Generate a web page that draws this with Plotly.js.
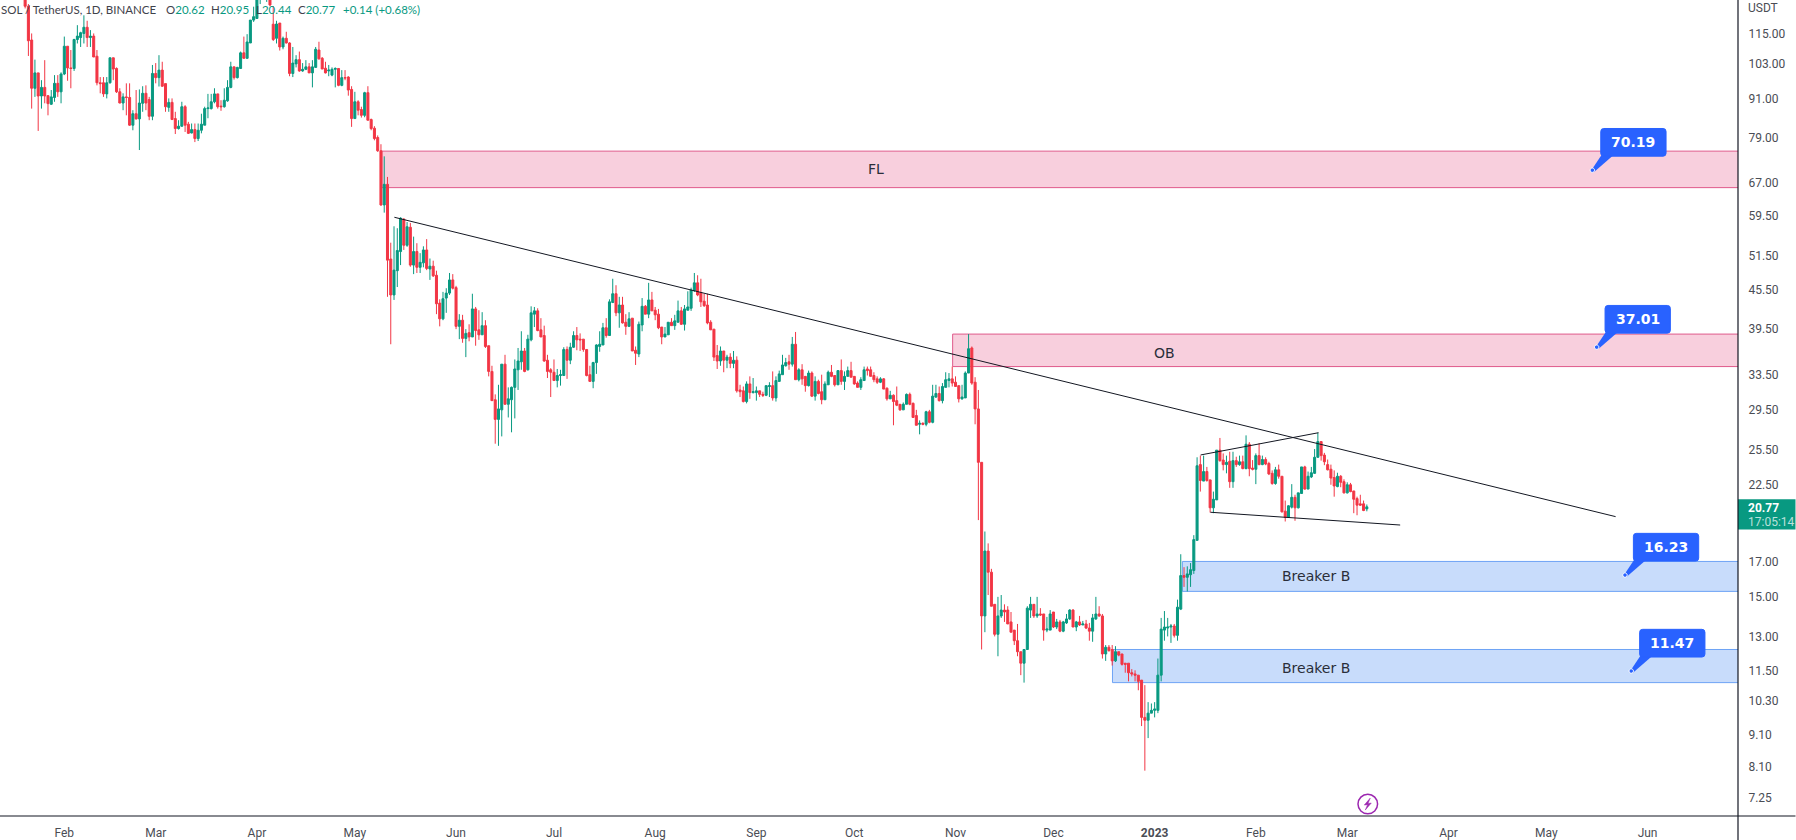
<!DOCTYPE html>
<html><head><meta charset="utf-8">
<script src="https://cdn.plot.ly/plotly-3.0.1.min.js"></script>
<style>html,body{margin:0;padding:0;background:#fff;overflow:hidden}#c{width:1796px;height:840px}</style>
</head><body><div id="c"></div>
<script>
const startDate = '2022-01-20';
const opens = [133,127,112.4,94.4,99.8,91.8,94.7,91.9,89.1,91.3,
96.1,93.2,99.4,109.9,101.6,101.4,112.6,113.4,115.1,117.7,
113.4,114,106,96.3,96.3,92.5,96.3,105.4,101.4,93.2,
89.5,91.5,91.3,82.6,86.1,84.5,89.4,92.7,90.6,85.3,
99.6,98.1,100.8,96,88.1,89.7,84.6,81.6,82.3,88.3,
82.9,80.3,81.3,78.7,81.1,82.6,87.7,87.7,89.9,92.5,
88.5,88.3,90.2,94.7,102,98.1,101.4,107.3,105.2,111.2,
120.8,121.5,130.5,136,133,133.5,119,113.1,119.5,109.6,
113.1,111.2,99.6,103.1,104.7,100.5,101.1,102,99.8,101.8,
108.4,105.2,101.5,100.5,99,101.1,101.4,95.4,98.1,98.3,
94,84.6,89.9,87.4,85.6,92.9,84.3,81.7,79,75.3,
61.9,66.7,50.9,44.7,48.8,52.3,58.8,53.5,57.1,49.8,
52.3,49.4,50.2,52.6,49.1,49.6,48,43.4,41,44.2,
45,47.2,45.9,39.9,40.8,38.2,39,38.4,42.5,39.4,
38.7,40,37.2,33.9,30.6,28.5,29.5,34.8,30.1,30.6,
32,34.1,35.1,36.5,34.1,38,41.7,42.2,39.4,38.6,
35.3,34.1,33.8,32.8,33.4,33.4,36.7,35.3,37,38.6,
38.1,38.1,36.7,33.5,32.7,35,37.1,37.3,39.7,38.6,
43.5,44.9,41.9,43.1,40.5,39.9,41.1,36.6,36.1,40.1,
42.9,41.7,43.9,42.3,41.7,39.8,38.4,38.7,40.5,40,
40.5,42.2,40.2,42.3,42.6,45.4,46.7,45.1,43.7,43.1,
40.5,39.5,35.9,35.2,36.5,35.3,35.7,34.9,35.3,31.7,
31.6,30.4,32.4,31.4,31.4,31.6,31.2,31.1,32.1,32.2,
30.8,32.7,33.5,34.6,
35.1,34.8,37.4,32.9,34.1,33.3,32.2,33.7,31,32.7,31.5,30.6,32.3,33.8,33.4,32.3,34,32.7,33.3,34,33.3,32.5,32,32.8,34.2,34.1,
33.4,33,32.6,33,31.9,30.7,31.1,30.5,30.1,29.5,30.1,31.2,30.2,28.9,28,28.1,28,29.3,28.2,30.9,31.3,30.5,32,32.8,33,32.6,
32.2,30.7,30.8,33.7,36.9,32.6,29.6,24.4,14,17.7,16.4,14.6,13.1,14,14.3,14.3,13.7,13.3,12.8,12.3,11.8,12.4,14.3,14.6,14,14.1,
14.1,13.3,13.3,14.2,13.45,13.7,13.25,13.65,13.85,14.3,13.45,13.7,13.55,13.6,13.4,13.25,13.85,14.1,14,12.2,12.5,12.4,11.9,12.3,12.2,11.8,
11.8,11.4,11.35,11.3,11.1,9.7,9.6,9.85,9.95,9.95,11.3,13.3,13.4,13.45,13.5,13.05,14.35,16.2,16.1,16.25,16.5,18.4,24.2,22.8,23.6,22.9,
20.7,21.3,25.5,24.6,24.2,24.5,22.75,24.55,24.2,24.45,23.85,26.05,23.9,23.8,25,24.2,24.65,24.3,23.45,22.6,23.75,23.2,20.45,20,20.75,21.5,
20.7,21.8,24,22.15,23.15,23.45,24.85,26.3,25.05,24.2,23.8,23.1,22.35,23.2,22.75,21.85,22.5,22,21.4,21,21,20.62];
const highs = [136,128,115.1,104.7,99.8,97.2,104.5,92,93.8,99,
99,100,113.8,110,108.4,112.9,118.6,115.8,122.9,120.5,
116.5,115.1,108.4,98.3,98.3,98.3,105.4,105.4,101.8,94.4,
92.7,96.1,96.1,87.2,93.8,94,95.1,95.4,91.5,102.7,
103.4,106.4,103.9,96,91,91,86.7,84.1,89.9,88.8,
83.6,83.1,83.1,83.1,86.1,88.3,92.5,92.5,94.4,92.5,
90.4,94.4,97.2,103.9,102,102,107.8,113.8,114.8,120.8,
126.8,135,143,144,139,137,127,120.5,119.5,113.8,
115.8,111.5,109.6,106.4,107.8,103.4,104.5,103.4,104.5,109.6,
111.7,105.7,103.9,102.7,101.8,101.8,101.4,100.8,100.8,98.6,
95.1,93.2,90.4,88.3,93.2,95.1,84.6,82.3,79.6,77.1,
73.8,68.5,54,57.3,56.9,59.2,59,58.2,58,55.2,
53.9,52,53.3,54.7,51,50.6,48.8,44,45.2,45.8,
48.4,48.2,46.2,41.7,41.6,39.5,40.2,44.9,42.8,42.3,
42,40.8,37.2,34.6,31.2,32.3,34.8,36,32,32.1,
35.4,36.9,39.2,36.9,38.7,42.9,42.8,42.6,41.1,40,
36,34.3,35.4,34.2,34.1,37,37.1,37.6,39.2,39.8,
38.9,38.1,36.7,34.6,35.1,37.4,39.2,40.4,41.1,44,
47.4,46.3,44.4,44.4,41.7,42,41.1,37.1,40.6,44.2,
43.1,46.7,45.2,42.8,42.5,39.8,39.8,40.5,41.1,41.6,
43.8,42.8,43.1,45.3,45.9,48.4,48,47.4,44.9,44.9,
40.8,39.5,37.3,37.1,36.5,36,36.2,36.5,35.8,32.3,
32.1,32.7,33.3,33.1,32.1,31.6,31.5,32.2,32.6,33.9,
33.3,34,36,35.6,
36,38.4,39.1,34.3,34.8,33.3,34,33.9,33.3,32.9,33.5,32.7,34,34.7,33.4,34,35.4,33.9,34.5,35.1,33.3,32.7,33.2,34.5,34.5,34.5,
33.8,33.3,33.2,33.1,32,31.6,31.2,32.1,30.1,30.3,31.3,31.4,30.3,29.5,28.4,28.2,29.4,29.5,32.3,32.3,32.1,32.5,33.8,33.7,34.5,33.3,
32.2,32.3,33.9,38.8,37.1,33.2,31.7,24.4,19,18.2,16.6,14.6,15,15.1,14.6,14.5,14.2,13.3,13.6,12.3,12.4,14.5,15,14.6,15,14.4,
14.1,13.95,14.3,14.2,13.85,13.8,13.75,14.1,14.35,14.35,13.75,14,13.75,13.8,13.65,14.1,15,14.5,14.1,12.6,12.6,12.6,12.55,12.3,12.2,11.8,
11.8,11.55,11.5,11.3,11.1,10.9,10.25,10.2,10.25,12,13.9,14.25,13.9,13.6,13.6,14.85,17.5,16.7,16.75,16.95,18.75,24.85,25,25,24,22.9,
21.95,25.5,26.65,25.2,25,25.35,25.35,24.9,25,25,26.9,26.25,24.6,25.2,26.15,25,24.85,24.45,23.7,24,24.2,23.2,21.25,20.9,22.55,21.7,
21.85,24,24.1,23.6,24,25.6,27.15,26.3,25.25,24.65,24.2,23.7,23.5,23.3,22.95,22.7,22.65,22,21.55,21.7,21.25,20.95];
const lows = [126,106.1,87.7,91.5,80.9,87.7,89.4,85.6,88.9,89.9,
91.5,89.4,99,97,94.4,100.5,111,109.6,111,109.6,
109.6,105.7,95.4,92.7,91.5,91,96,97.2,92.8,89.4,
87.2,85.6,82.4,81.1,84.3,75.5,86.7,87.2,84.1,84.1,
96.1,95,94.9,86.7,86.7,84.3,80,81.3,82.1,80.6,
80,80.2,77.7,78,80.2,82.6,84.7,87.4,89.4,87.7,
87,88,89.9,94.4,97.4,97.8,101.2,105,105,111.2,
120,121.5,128,131,129,127,112,111,108.2,108.7,
111,98.6,98.3,101.8,100.2,100.2,100.8,99.8,94.7,101.8,
104.7,101.2,99.6,98.6,98.6,94.7,95.1,95.1,97.2,91.9,
82.1,84.6,85.6,84.9,85,84.1,81.1,78.2,75,61.7,
60.2,44.4,37.4,43.9,46,49.8,52.6,53.2,49.5,48.2,
48.4,48.4,49.4,48.9,47.2,47.7,41.7,39.9,40.8,41.9,
44.7,45.6,39.5,38.1,37.6,35.7,37.8,38.4,37.2,38,
38.7,36.9,33.3,30.5,26.1,25.9,26.8,30.1,28.7,27.2,
28.6,31.7,34.1,33.8,34,37.8,39.8,39.2,38.4,35.1,
33.1,30.9,32.8,32,32.2,33.4,33,34.8,36.9,36.6,
36.5,36.4,33.3,32.7,31.9,33.6,36.4,37.3,38.3,38.6,
43.4,41.4,39.7,40.3,38.7,39.8,36.5,34.7,35.7,39.2,
41.7,41.1,42.2,40.8,39.5,37.4,38.4,38.7,40,39.4,
40.5,40.1,39.3,42.3,42.2,45.2,44.5,42.8,42.8,40.2,
39.4,35.2,34.2,34.6,33.8,34.3,34.3,34.3,31.4,30.9,
30.3,30.2,30.7,31.3,30.5,30.9,30.9,31,30.9,30.5,
30.4,32.7,33.5,34.5,
34.1,34.5,32.9,32.7,32.3,31.5,32.1,30.9,30.5,31.2,30.1,30.6,32.3,33.2,32.1,32.3,32.3,31.7,33.3,33.2,32.3,32,31.7,32.8,33.4,33.3,
32.6,32.4,32.5,31.8,30.5,30.7,27.9,29.9,29.4,29.5,30.1,30,28.7,27.9,27,27.9,27.8,28.1,28.1,30.8,30.4,30.2,32,32,32.1,32.1,
30.3,30.6,30.8,33.7,32.3,28,19.8,12.4,13.2,15.1,14.5,13,12.1,13.9,13.7,13.6,13.2,12.6,12.1,11.3,11,12.4,13.9,13.9,13.9,14,
12.8,13.2,13.3,13.4,13.35,13.2,13.2,13.6,13.8,13.45,13.25,13.5,13.55,13.35,12.8,12.75,13.8,13.95,12,11.9,12.3,11.7,11.85,12.1,11.7,11.4,
11.05,11.25,11.05,10.7,9.4,8,9,9.85,9.7,9.85,11.05,12.8,13,12.7,12.95,12.8,14.3,15.55,15.3,15.55,16.3,18.4,21.95,22.8,22.75,20.35,
20.3,21.3,24.45,23.7,23.45,22.25,22.25,24,24.1,23.8,23.8,23.2,23.7,22.55,24.15,24.15,24.15,23.3,22.5,22.5,23,20.35,19.7,19.95,20.65,19.75,
20.65,21.8,22.1,22.15,23.05,23.4,24.8,24.55,24.15,23.7,22.5,21.55,22.3,22.3,21.8,21.8,21.9,20.3,20.15,20.85,20.45,20.44];
const closes = [127,112.1,94.4,99.8,91.8,94.7,91.8,89.3,91.5,96.1,
93.2,99.4,109.9,101.6,101.4,112.6,114,115.4,117.7,113.4,
114,105.7,96.3,96,92.5,96.3,105.4,101.2,93.2,89.5,
91.5,91.3,82.6,86.1,84.5,89.5,92.7,89.5,85.3,99.6,
98.1,100.8,95.1,88.3,89.7,84.3,81.6,82.3,88.3,82.6,
80.2,81.3,78.7,81.1,82.9,87.7,87.9,89.9,92.5,88.3,
88.3,90.4,94.7,102,98.1,101.8,107.3,105.2,111.6,120.8,
122.3,130.5,136,133,133.5,127.6,112.6,119.1,109.6,113.1,
111.2,99.6,103.4,104.7,100.5,101.1,102,99.8,102,108.7,
105,101.2,99.8,100.8,101.1,101.4,95.4,98.1,98,93.8,
84.6,89.9,87.2,85.6,92.9,84.1,81.6,78.7,75.3,61.9,
66.7,50.7,44.7,48.9,52.5,59,53.5,57.2,49.8,52.3,
49.4,50.3,52.6,49.2,49.6,47.9,43.3,41,44.1,45,
47.2,45.8,39.9,40.8,38.2,38.9,38.4,42.5,39.3,38.7,
40,37.1,33.9,30.5,28.5,29.6,34.8,30.1,30.7,32,
34.2,35.2,36.5,33.9,38.1,41.9,42.2,39.3,38.4,35.2,
33.9,33.8,32.8,33.4,33.5,36.7,35.3,37,38.6,38,
38,36.7,33.4,32.7,35,37.3,37.4,39.7,38.6,43.6,
44.9,41.9,43.1,40.4,39.9,41,36.5,36.2,40.2,42.9,
41.7,43.9,42.2,41.6,39.7,38.4,38.8,40.5,40,40.7,
42.2,40.2,42.5,42.8,45.5,46.7,44.7,43.6,43,40.4,
39.4,35.7,35.2,36.5,35.3,35.7,34.9,35.3,31.6,31.5,
30.4,32.4,31.4,31.5,31.6,31.2,31.1,32.2,32.2,30.8,
32.8,33.6,34.7,35,
34.8,37.4,32.9,34.1,33,32.2,33.7,31,32.7,31.3,30.6,32.4,33.8,33.3,32.3,34,32.7,33.3,34,33.2,32.4,32,32.9,34.1,34,33.3,
32.9,32.6,33,31.8,30.7,31.1,30.4,30,29.5,30.1,31.2,30.1,28.7,27.9,28.1,28,29.3,28.2,31,31.3,30.5,32.1,32.9,33,32.5,32.1,
30.7,30.9,33.7,36.8,32.5,29.6,24.4,14,17.7,16.4,14.5,13.1,14,14.3,14.2,13.6,13.2,12.8,12.3,11.8,12.4,14.4,14.6,14,14.1,14.05,
13.3,13.35,14.1,13.45,13.7,13.25,13.7,13.85,14.3,13.45,13.7,13.55,13.6,13.4,13.25,13.9,14.1,14,12.2,12.5,12.35,11.9,12.3,12.15,11.75,11.75,
11.4,11.35,11.3,11.05,9.7,9.6,9.85,9.95,10,11.3,13.35,13.45,13.45,13.5,13.05,14.45,16.2,16.1,16.3,16.55,18.45,24.1,22.85,23.6,22.85,20.7,
21.35,25.5,24.55,24.2,24.4,22.75,24.55,24.2,24.45,23.85,26.05,23.85,23.8,25,24.2,24.65,24.25,23.4,22.6,23.75,23.2,20.4,20,20.85,21.5,20.7,
21.85,24,22.15,23.2,23.5,24.85,26.3,25,24.45,23.75,23.05,22.4,23.2,22.7,21.85,22.5,21.95,21.35,20.9,20.9,20.5,20.77];

const priceTicks = [115,103,91,79,67,59.5,51.5,45.5,39.5,33.5,29.5,25.5,22.5,17,15,13,11.5,10.3,9.1,8.1,7.25];
const monthDates = ['2022-02-01','2022-03-01','2022-04-01','2022-05-01','2022-06-01','2022-07-01','2022-08-01','2022-09-01','2022-10-01','2022-11-01','2022-12-01','2023-01-01','2023-02-01','2023-03-01','2023-04-01','2023-05-01','2023-06-01'];
const monthLabels = ['Feb','Mar','Apr','May','Jun','Jul','Aug','Sep','Oct','Nov','Dec','<b>2023</b>','Feb','Mar','Apr','May','Jun'];

// zones
const zoneStarts = ['2022-05-09T06:00','2022-10-31T03:00','2023-01-09T12:00','2022-12-19T02:00'];
const zoneTops = [75.2,38.8,17.05,12.4];
const zoneBottoms = [65.9,34.5,15.3,11.0];
const zoneFills = ['#f8cfdd','#f8cfdd','#c8dcfb','#c8dcfb'];
const zoneEdges = ['#df5a8b','#df5a8b','#6ea3f5','#6ea3f5'];
const zoneLabels = ['FL','OB','Breaker B','Breaker B'];
const zoneLabelDates = ['2022-10-07T12:00','2023-01-04','2023-02-19T12:00','2023-02-19T12:00'];
const zoneLabelPrices = [70.6,36.2,16.15,11.6];

// trend lines
const lineStartDates = ['2022-05-13T02:30','2023-01-15T02:00','2023-01-18T02:00'];
const lineEndDates = ['2023-05-22T05:00','2023-02-20T05:00','2023-03-17T05:00'];
const lineStartPrices = [59.2,25.06,20.37];
const lineEndPrices = [20.05,27.16,19.45];

// callouts
const calloutValues = [70.19,37.01,16.23,11.47];
const calloutDates = ['2023-05-15T02:00','2023-05-16T09:40','2023-05-25T02:00','2023-05-27T00:00'];

const lastPriceTop = 21.35, lastPriceBottom = 19.13;
const dates = closes.map((_, i) => new Date(Date.parse(startDate + 'T00:00:00Z') + i * 864e5).toISOString().slice(0, 10));

const PW = 1738.5, PH = 816;
const font = 'Roboto, sans-serif';
const ring = r => { const k = +(r * 0.5523).toFixed(2);
  return `M ${r} 0 C ${r} ${k} ${k} ${r} 0 ${r} C ${-k} ${r} ${-r} ${k} ${-r} 0 C ${-r} ${-k} ${-k} ${-r} 0 ${-r} C ${k} ${-r} ${r} ${-k} ${r} 0 Z`; };
const shapes = [];
zoneStarts.forEach((s, i) => shapes.push({type:'rect', layer:'below', xref:'x', yref:'y', x0:s, x1:'2023-07-15',
  y0:zoneBottoms[i], y1:zoneTops[i], fillcolor:zoneFills[i], line:{color:zoneEdges[i], width:1}}));
lineStartDates.forEach((s, i) => shapes.push({type:'line', xref:'x', yref:'y', x0:s, x1:lineEndDates[i],
  y0:lineStartPrices[i], y1:lineEndPrices[i], line:{color:'#131722', width:1}}));
calloutValues.forEach((v, i) => {
  const pix = {xref:'x', yref:'y', xsizemode:'pixel', ysizemode:'pixel', xanchor:calloutDates[i], yanchor:v};
  shapes.push(Object.assign({}, pix, {type:'path', fillcolor:'#2962ff', line:{width:0},
    path:'M 0 1.5 L 9 15 L 21 15 L 2 -1.5 Z'}));
  shapes.push(Object.assign({}, pix, {type:'path', fillcolor:'#2962ff', line:{color:'#2962ff', width:1},
    path:'M 11.4 14 L 70.7 14 Q 73.7 14 73.7 17 L 73.7 38.7 Q 73.7 41.7 70.7 41.7 L 11.4 41.7 Q 8.4 41.7 8.4 38.7 L 8.4 17 Q 8.4 14 11.4 14 Z'}));
  shapes.push(Object.assign({}, pix, {type:'path', path:ring(2.2), fillcolor:'#2962ff', line:{color:'#ffffff', width:1}}));
});
// purple bolt icon
const boltPos = {xref:'x', yref:'y', xsizemode:'pixel', ysizemode:'pixel', xanchor:'2023-03-07T07:00', yanchor:7.09};
shapes.push(Object.assign({}, boltPos, {type:'path', path:ring(9.8), fillcolor:'rgba(0,0,0,0)', line:{color:'#9c27b0', width:1.5}}));
shapes.push(Object.assign({}, boltPos, {type:'path', fillcolor:'#9c27b0', line:{color:'#9c27b0', width:0.5},
  path:'M 2.5 6 L -3.5 -1 L -0.2 -0.6 L -2.5 -6 L 3.5 1 L 0.2 0.6 Z'}));
// price tag and frame
shapes.push({type:'rect', xref:'paper', yref:'y', x0:1, x1:1796/PW, y0:lastPriceBottom, y1:lastPriceTop, fillcolor:'#089981', line:{width:0}});
shapes.push({type:'line', xref:'paper', yref:'paper', x0:1, x1:1, y0:-24/PH, y1:1, line:{color:'#131722', width:1.2}});
shapes.push({type:'line', xref:'paper', yref:'paper', x0:0, x1:1796/PW, y0:0, y1:0, line:{color:'#131722', width:1.2}});

const ann = [];
zoneLabels.forEach((t, i) => ann.push({text:t, x:zoneLabelDates[i], y:Math.log10(zoneLabelPrices[i]), xref:'x', yref:'y', showarrow:false,
  xanchor:'center', yanchor:'middle', font:{family:'DejaVu Sans', size:14, color:'#2a2e39'}}));
calloutValues.forEach((v, i) => ann.push({text:'<b>'+v.toFixed(2)+'</b>', x:calloutDates[i], y:Math.log10(v), xref:'x', yref:'y', showarrow:false,
  xshift:41, yshift:27.8, xanchor:'center', yanchor:'middle', font:{family:'DejaVu Sans', size:14, color:'#ffffff'}}));
const hdr = (t, px, col) => ann.push({text:t, xref:'paper', yref:'paper', x:px/PW, y:1-9.5/PH, xanchor:'left', yanchor:'middle', showarrow:false, borderpad:0, font:{family:'Lato, sans-serif', size:11.5, color:col}});
const G = '#089981', D = '#3f424b';
hdr('SOL / TetherUS, 1D, BINANCE', 0, D);
hdr('O<span style="color:'+G+'">20.62</span>', 165, D);
hdr('H<span style="color:'+G+'">20.95</span>', 210, D);
hdr('L<span style="color:'+G+'">20.44</span>', 255, D);
hdr('C<span style="color:'+G+'">20.77</span>', 297, D);
hdr('+0.14 (+0.68%)', 342, G);
const right = (t, y, col, w) => ann.push({text:t, xref:'paper', yref:'paper', x:1748/PW, y:1-y/PH, xanchor:'left', yanchor:'middle', showarrow:false, borderpad:0, font:{family:font, size:12, color:col}});
right('USDT', 8.5, '#4a4d55');
right('<b>20.77</b>', 507.7, '#ffffff');
right('17:05:14', 521.7, 'rgba(255,255,255,0.72)');

Plotly.newPlot('c', [{
  type:'candlestick', x:dates, open:opens, high:highs, low:lows, close:closes,
  increasing:{line:{color:'#089981', width:1}, fillcolor:'#089981'},
  decreasing:{line:{color:'#f23645', width:1}, fillcolor:'#f23645'},
  whiskerwidth:0, hoverinfo:'skip', showlegend:false
}], {
  width:1796, height:840, margin:{l:0, r:57.5, t:0, b:24, pad:0},
  paper_bgcolor:'#ffffff', plot_bgcolor:'#ffffff', showlegend:false, boxgap:0.38, boxgroupgap:0,
  xaxis:{type:'date', range:['2022-01-12T07:12','2023-06-28T16:48'], rangeslider:{visible:false}, showgrid:false, zeroline:false, showline:false,
    tickmode:'array', tickvals:monthDates, ticktext:monthLabels, ticks:'outside', ticklen:6, tickcolor:'rgba(0,0,0,0)',
    tickfont:{family:font, size:12, color:'#4a4d55'}},
  yaxis:{type:'log', side:'right', range:[Math.log10(6.79), Math.log10(129.9)], showgrid:false, zeroline:false, showline:false,
    tickmode:'array', tickvals:priceTicks, ticktext:priceTicks.map(v => v.toFixed(2)), ticks:'outside', ticklen:7, tickcolor:'rgba(0,0,0,0)',
    tickfont:{family:font, size:12, color:'#4a4d55'}},
  shapes:shapes, annotations:ann
}, {displayModeBar:false, staticPlot:true});
</script></body></html>
